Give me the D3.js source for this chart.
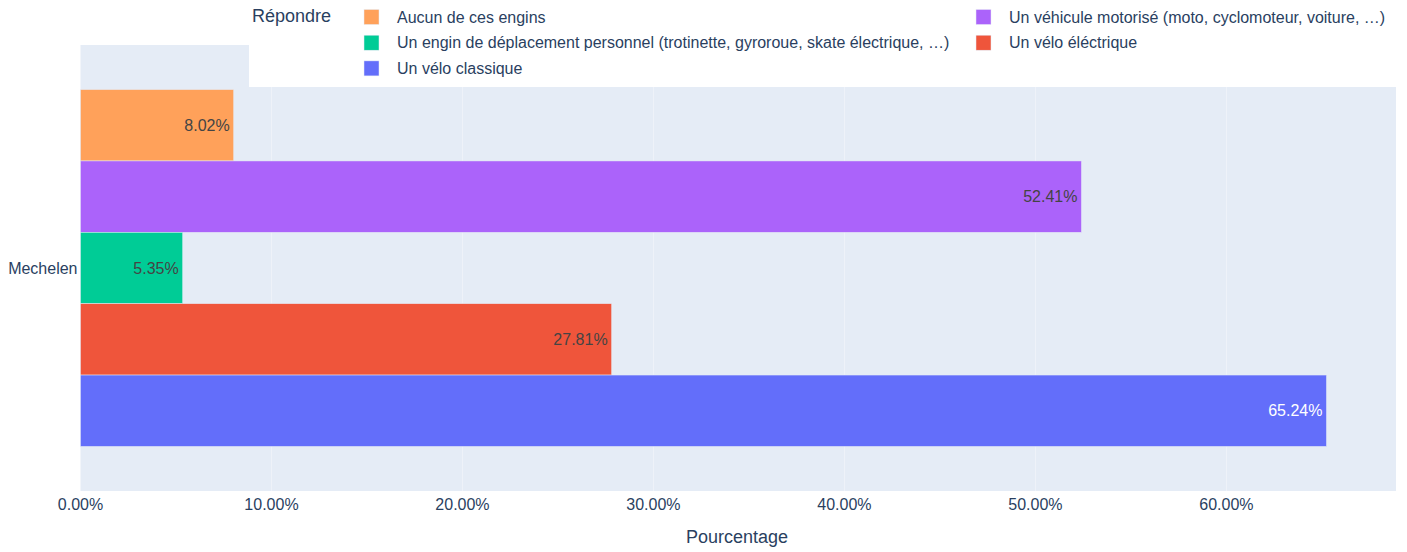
<!DOCTYPE html>
<html>
<head>
<meta charset="utf-8">
<script src="https://cdn.jsdelivr.net/npm/d3@7"></script>
<style>
  body { margin: 0; background: white; }
  svg { font-family: "Liberation Sans", Arial, sans-serif; }
</style>
</head>
<body>
<svg width="1407" height="552"></svg>
<script>
const categories = ["Mechelen"];
const seriesNames = [
  "Aucun de ces engins",
  "Un véhicule motorisé (moto, cyclomoteur, voiture, …)",
  "Un engin de déplacement personnel (trotinette, gyroroue, skate électrique, …)",
  "Un vélo éléctrique",
  "Un vélo classique"
];
const seriesValues = [8.02, 52.41, 5.35, 27.81, 65.24];
const seriesColors = ["#FFA15A", "#AB63FA", "#00CC96", "#EF553B", "#636EFA"];
const xTicks = [0, 10, 20, 30, 40, 50, 60];
const legendTitle = "Répondre";
const xTitle = "Pourcentage";

var svg = d3.select("svg"),
  width = +svg.attr("width"),
  height = +svg.attr("height");

let plotLeft = 80.5, plotRight = 1392, plotTop = 45, plotBottom = 491;
let textColor = "#2a3f5f";

let x = d3.scaleLinear()
  .domain([0, d3.max(seriesValues) * 1.0526])
  .range([plotLeft, plotRight]);

let yCat = d3.scaleBand()
  .domain(categories)
  .range([plotTop, plotBottom])
  .paddingInner(0.2)
  .paddingOuter(0.1);

let ySeries = d3.scaleBand()
  .domain(seriesNames)
  .range([0, yCat.bandwidth()]);

// background
svg.append("rect")
  .attr("x", plotLeft).attr("y", plotTop)
  .attr("width", plotRight - plotLeft + 4).attr("height", plotBottom - plotTop)
  .attr("fill", "#E5ECF6");

// grid (faint, like the original)
svg.append("g").selectAll("line").data(xTicks.slice(1))
  .enter().append("line")
  .attr("x1", d => Math.round(x(d)) + 0.5).attr("x2", d => Math.round(x(d)) + 0.5)
  .attr("y1", plotTop).attr("y2", plotBottom)
  .attr("stroke", "#EEF2F9").attr("stroke-width", 1);

svg.append("line")
  .attr("x1", x(0)).attr("x2", x(0))
  .attr("y1", plotTop).attr("y2", plotBottom)
  .attr("stroke", "#F2F5FA").attr("stroke-width", 1);

// bars
let bars = svg.append("g");
categories.forEach(function (cat) {
  seriesNames.forEach(function (name, i) {
    let y0 = yCat(cat) + ySeries(name);
    let h = ySeries.bandwidth();
    bars.append("rect")
      .attr("x", x(0))
      .attr("y", y0)
      .attr("width", x(seriesValues[i]) - x(0))
      .attr("height", h)
      .attr("fill", seriesColors[i])
      .attr("stroke", "#E5ECF6")
      .attr("stroke-width", 0.5);
    let light = d3.lab(seriesColors[i]).l > 55;
    bars.append("text")
      .attr("x", x(seriesValues[i]) - 4)
      .attr("y", y0 + h / 2)
      .attr("dy", "0.35em")
      .attr("text-anchor", "end")
      .attr("font-size", 16)
      .attr("fill", light ? "#444" : "white")
      .text(seriesValues[i].toFixed(2) + "%");
  });
});

// x axis labels
svg.append("g").selectAll("text").data(xTicks)
  .enter().append("text")
  .attr("x", d => x(d))
  .attr("y", plotBottom + 13)
  .attr("dy", "0.35em")
  .attr("text-anchor", "middle")
  .attr("font-size", 16)
  .attr("fill", textColor)
  .text(d => d.toFixed(2) + "%");

svg.append("text")
  .attr("x", 737)
  .attr("y", 537)
  .attr("dy", "0.35em")
  .attr("text-anchor", "middle")
  .attr("font-size", 18)
  .attr("fill", textColor)
  .text(xTitle);

// y axis labels
svg.append("g").selectAll("text").data(categories)
  .enter().append("text")
  .attr("x", plotLeft - 3)
  .attr("y", d => yCat(d) + yCat.bandwidth() / 2)
  .attr("dy", "0.35em")
  .attr("text-anchor", "end")
  .attr("font-size", 16)
  .attr("fill", textColor)
  .text(d => d);

// legend
let legend = svg.append("g");
legend.append("rect")
  .attr("x", 249).attr("y", 0)
  .attr("width", width - 249).attr("height", 87)
  .attr("fill", "white");

legend.append("text")
  .attr("x", 252).attr("y", 16)
  .attr("dy", "0.35em")
  .attr("font-size", 18)
  .attr("fill", textColor)
  .text(legendTitle);

seriesNames.forEach(function (name, i) {
  let col = i % 2, row = Math.floor(i / 2);
  let lx = 364 + col * 612;
  let ly = 17 + row * 25.7;
  legend.append("rect")
    .attr("x", lx).attr("y", ly - 7.5)
    .attr("width", 15).attr("height", 15)
    .attr("fill", seriesColors[i])
    .attr("stroke", "#E5ECF6")
    .attr("stroke-width", 0.5);
  legend.append("text")
    .attr("x", lx + 33).attr("y", ly)
    .attr("dy", "0.35em")
    .attr("font-size", 16)
    .attr("fill", textColor)
    .text(name);
});
</script>
</body>
</html>
